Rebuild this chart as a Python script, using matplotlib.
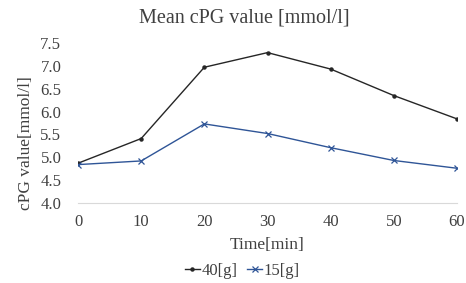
import matplotlib
matplotlib.use("Agg")
import matplotlib.pyplot as plt

time = [0, 10, 20, 30, 40, 50, 60]
g40 = [4.87, 5.41, 6.97, 7.29, 6.93, 6.35, 5.84]
g15 = [4.84, 4.92, 5.73, 5.52, 5.21, 4.93, 4.76]
yticks = [4.0, 4.5, 5.0, 5.5, 6.0, 6.5, 7.0, 7.5]

plt.rcParams['font.family'] = ['Liberation Serif', 'DejaVu Serif']

fig = plt.figure(figsize=(4.66, 2.83), dpi=100)
ax = fig.add_axes([0.1674, 0.2827, 0.8133, 0.5653])

ax.plot(time, g40, color="#262626", linewidth=1, marker="o", markersize=2.2, label="40[g]")
ax.plot(time, g15, color="#2F5597", linewidth=1, marker="x", markersize=4, markeredgewidth=0.9, label="15[g]")

ax.set_xlim(0, 60)
ax.set_ylim(4.0, 7.5)
ax.set_xticks(time)
ax.set_yticks(yticks)
ax.set_yticklabels(["%.1f" % v for v in yticks])
for s in ["top", "right", "left"]:
    ax.spines[s].set_visible(False)
ax.spines["bottom"].set_color("#d9d9d9")
ax.tick_params(axis="both", length=0, labelsize=12, colors="#404040")
ax.tick_params(axis="x", pad=8)
ax.tick_params(axis="y", pad=12)

fig.text(0.524, 0.936, "Mean cPG value [mmol/l]", fontsize=14.5, color="#404040",
         ha="center", va="center")
ax.set_xlabel("Time[min]", fontsize=12.5, color="#404040", labelpad=5)
ax.set_ylabel("cPG value[mmol/l]", fontsize=12.5, color="#404040")
ax.yaxis.set_label_coords(-0.115, 0.375)

fig.legend(loc="lower center", bbox_to_anchor=(0.52, -0.04), ncol=2, frameon=False,
           fontsize=12, handlelength=0.9, handletextpad=0.1, columnspacing=0.6, labelcolor="#404040")

fig.savefig("out.png", dpi=100)
